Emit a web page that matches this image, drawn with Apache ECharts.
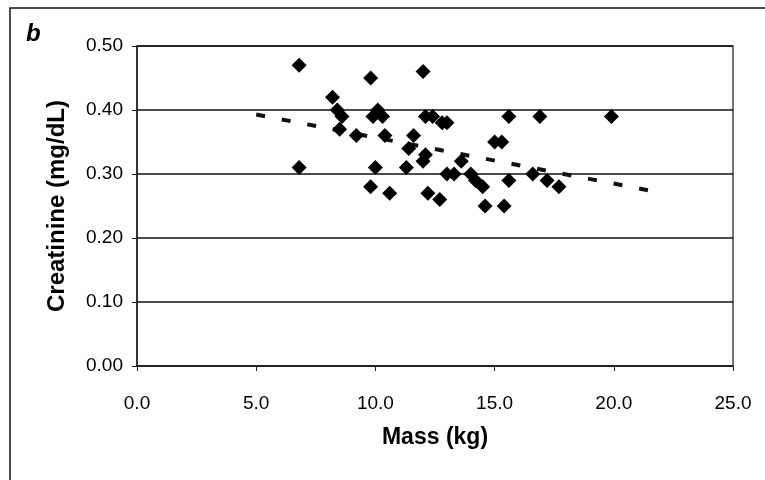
<!DOCTYPE html>
<html>
<head>
<meta charset="utf-8">
<script src="https://cdn.jsdelivr.net/npm/echarts@6/dist/echarts.min.js"></script>
<style>
html,body{margin:0;padding:0;background:#fff;}
#chart{width:765px;height:480px;}
</style>
</head>
<body>
<div id="chart"></div>
<script>
// Data
const massKg = [6.8, 6.8, 8.2, 8.4, 8.6, 8.5, 9.2, 9.8, 9.9, 10.1, 10.3, 10.4, 10.0, 9.8, 10.6,
  11.6, 11.4, 11.3, 12.0, 12.1, 12.4, 12.8, 13.0, 12.1, 12.0, 12.2, 12.7, 13.0, 13.3, 13.6,
  14.0, 14.2, 14.5, 14.6, 15.0, 15.3, 15.4, 15.6, 15.6, 16.6, 16.9, 17.2, 17.7, 19.9];
const creatinine = [0.47, 0.31, 0.42, 0.40, 0.39, 0.37, 0.36, 0.45, 0.39, 0.40, 0.39, 0.36, 0.31, 0.28, 0.27,
  0.36, 0.34, 0.31, 0.46, 0.39, 0.39, 0.38, 0.38, 0.33, 0.32, 0.27, 0.26, 0.30, 0.30, 0.32,
  0.30, 0.29, 0.28, 0.25, 0.35, 0.35, 0.25, 0.39, 0.29, 0.30, 0.39, 0.29, 0.28, 0.39];
const trendX = [5.0, 21.8];
const trendY = [0.393, 0.272];
const xTicks = [0, 5, 10, 15, 20, 25];
const yTicks = [0, 0.1, 0.2, 0.3, 0.4, 0.5];
const panelLabel = 'b';
const xTitle = 'Mass (kg)';
const yTitle = 'Creatinine (mg/dL)';

const points = massKg.map((m, i) => [m, creatinine[i]]);
const trend = trendX.map((x, i) => [x, trendY[i]]);

const chart = echarts.init(document.getElementById('chart'), null, {renderer: 'canvas'});
const FONT = 'Liberation Sans, Arial, sans-serif';
chart.setOption({
  animation: false,
  backgroundColor: '#fff',
  grid: {left: 137, top: 46, right: 32, bottom: 114, show: true, borderColor: '#444', borderWidth: 1.5, backgroundColor: 'transparent'},
  xAxis: {
    type: 'value', min: xTicks[0], max: xTicks[xTicks.length - 1], interval: 5,
    name: xTitle, nameLocation: 'middle', nameGap: 60,
    nameTextStyle: {fontFamily: FONT, fontWeight: 'bold', fontSize: 23, color: '#000'},
    axisLine: {show: true, lineStyle: {color: '#222', width: 1.5}},
    axisTick: {show: true, inside: false, length: 5, lineStyle: {color: '#222'}},
    axisLabel: {margin: 28, fontFamily: FONT, fontSize: 19, color: '#000', formatter: v => v.toFixed(1)},
    splitLine: {show: false}
  },
  yAxis: {
    type: 'value', min: yTicks[0], max: yTicks[yTicks.length - 1], interval: 0.1,
    name: yTitle, nameLocation: 'middle', nameGap: 68, nameRotate: 90,
    nameTextStyle: {fontFamily: FONT, fontWeight: 'bold', fontSize: 24, color: '#000'},
    axisLine: {show: true, lineStyle: {color: '#222', width: 1.5}},
    axisTick: {show: true, inside: false, length: 5, lineStyle: {color: '#222'}},
    axisLabel: {margin: 14, fontFamily: FONT, fontSize: 19, color: '#000', formatter: v => v.toFixed(2)},
    splitLine: {show: true, lineStyle: {color: '#111', width: 1.5}}
  },
  graphic: [
    {type: 'rect', shape: {x: 10, y: 8, width: 800, height: 520}, style: {fill: 'none', stroke: '#111', lineWidth: 1.5}, silent: true, z: -1},
    {type: 'text', left: 26, top: 22, style: {text: panelLabel, font: 'italic bold 24px ' + FONT, fill: '#000'}}
  ],
  series: [
    {type: 'scatter', data: points, symbol: 'diamond', symbolSize: [15, 15], itemStyle: {color: '#000', opacity: 1}, z: 3},
    {type: 'line', data: trend, showSymbol: false, symbol: 'none',
      lineStyle: {color: '#111', width: 4, type: [9, 17]}, z: 2}
  ]
});
</script>
</body>
</html>
